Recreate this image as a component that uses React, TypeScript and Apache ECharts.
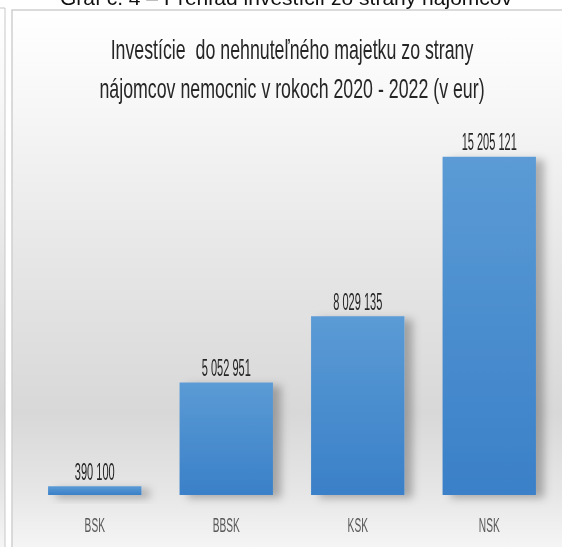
import React, { useEffect, useRef } from "react";
import * as echarts from "echarts";

const categories = ["BSK", "BBSK", "KSK", "NSK"];
const values = [390100, 5052951, 8029135, 15205121];
const valueLabels = ["390 100", "5 052 951", "8 029 135", "15 205 121"];
const titleLines = [
  "Investície  do nehnuteľného majetku zo strany",
  "nájomcov nemocnic v rokoch 2020 - 2022 (v eur)",
];
const headingText = "Graf č. 4 – Prehľad investícií zo strany nájomcov";

const SANS = "'Liberation Sans', Arial, sans-serif";

export default function App() {
  const ref = useRef<HTMLDivElement>(null);
  useEffect(() => {
    if (!ref.current) return;
    const chart = echarts.init(ref.current, null, { renderer: "svg" });
    const bg = () =>
      new echarts.graphic.LinearGradient(0, 0, 0, 1, [
        { offset: 0, color: "#ffffff" },
        { offset: 0.15, color: "#f8f8f8" },
        { offset: 0.45, color: "#e6e6e6" },
        { offset: 0.72, color: "#d8d8d8" },
        { offset: 0.86, color: "#e6e6e6" },
        { offset: 1, color: "#fbfbfb" },
      ]);
    chart.setOption({
      animation: false,
      graphic: [
        {
          type: "rect",
          z: -10,
          silent: true,
          shape: { x: -10, y: 8, width: 15, height: 560 },
          style: { fill: bg(), stroke: "#c8c8c8", lineWidth: 1 },
        },
        {
          type: "rect",
          z: -10,
          silent: true,
          shape: { x: 12, y: 10, width: 560, height: 560 },
          style: { fill: bg(), stroke: "#cfcfcf", lineWidth: 1.5 },
        },
        {
          type: "text",
          x: 286,
          y: -3,
          silent: true,
          style: {
            text: headingText,
            align: "center",
            verticalAlign: "middle",
            font: "21px " + SANS,
            fill: "#111111",
          },
        },
        ...titleLines.map((t, i) => ({
          type: "text",
          x: 292,
          y: 49 + i * 39,
          scaleX: 0.635,
          silent: true,
          style: {
            text: t,
            align: "center",
            verticalAlign: "middle",
            font: "28px " + SANS,
            fill: "#262626",
          },
        })),
      ],
      grid: { left: 29, width: 526, top: 139, height: 356, containLabel: false },
      xAxis: {
        type: "category",
        data: categories,
        axisLine: { show: false },
        axisTick: { show: false },
        axisLabel: { show: false },
      },
      yAxis: {
        type: "value",
        min: 0,
        max: 16000000,
        interval: 2000000,
        show: false,
        splitLine: { show: false },
      },
      series: [
        {
          type: "bar",
          data: values,
          barWidth: "71%",
          itemStyle: {
            color: new echarts.graphic.LinearGradient(0, 0, 0, 1, [
              { offset: 0, color: "#5b9bd5" },
              { offset: 1, color: "#3a80c8" },
            ]),
            shadowColor: "rgba(0,0,0,0.28)",
            shadowBlur: 9,
            shadowOffsetX: 8,
            shadowOffsetY: 3,
          },
        },
        {
          type: "custom",
          silent: true,
          clip: false,
          z: 5,
          data: values.map((v, i) => [i, v]),
          renderItem: (params: any, api: any) => {
            const i = params.dataIndex;
            const p = api.coord([api.value(0), api.value(1)]);
            return {
              type: "text",
              x: p[0],
              y: p[1] - 14,
              scaleX: 0.48,
              style: {
                text: valueLabels[i],
                align: "center",
                verticalAlign: "middle",
                font: "23px " + SANS,
                fill: "#262626",
              },
            };
          },
        },
        {
          type: "custom",
          silent: true,
          clip: false,
          z: 5,
          data: categories.map((c, i) => [i, 0]),
          renderItem: (params: any, api: any) => {
            const i = params.dataIndex;
            const p = api.coord([api.value(0), api.value(1)]);
            return {
              type: "text",
              x: p[0],
              y: p[1] + 30,
              scaleX: 0.52,
              style: {
                text: categories[i],
                align: "center",
                verticalAlign: "middle",
                font: "19.5px " + SANS,
                fill: "#595959",
              },
            };
          },
        },
      ],
    });
    return () => chart.dispose();
  }, []);
  return (
    <div
      ref={ref}
      style={{ position: "fixed", left: 0, top: 0, width: 562, height: 547 }}
    />
  );
}
